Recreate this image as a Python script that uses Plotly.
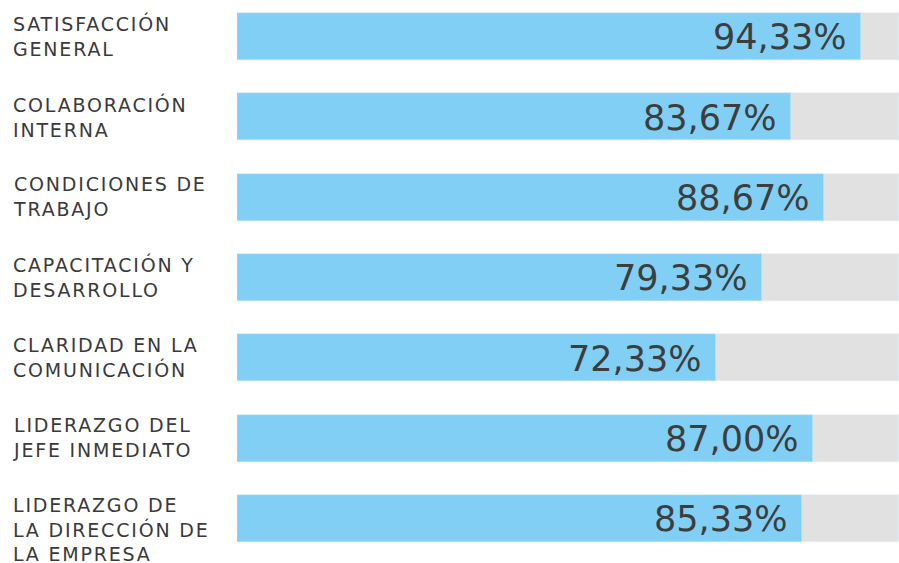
import plotly.graph_objects as go

categories = [
    "SATISFACCIÓN<br>GENERAL",
    "COLABORACIÓN<br>INTERNA",
    "CONDICIONES DE<br>TRABAJO",
    "CAPACITACIÓN Y<br>DESARROLLO",
    "CLARIDAD EN LA<br>COMUNICACIÓN",
    "LIDERAZGO DEL<br>JEFE INMEDIATO",
    "LIDERAZGO DE<br>LA DIRECCIÓN DE<br>LA EMPRESA",
]
values = [94.33, 83.67, 88.67, 79.33, 72.33, 87.00, 85.33]
max_values = [100, 100, 100, 100, 100, 100, 100]
value_labels = ["94,33%", "83,67%", "88,67%", "79,33%", "72,33%", "87,00%", "85,33%"]

idx = list(range(len(categories)))
FONT = "DejaVu Sans"

fig = go.Figure()
fig.add_trace(go.Bar(x=max_values, y=idx, orientation="h", marker_color="#E1E1E1",
                     width=0.585, hoverinfo="skip", showlegend=False))
fig.add_trace(go.Bar(x=values, y=idx, orientation="h", marker_color="#81CFF4",
                     width=0.585, showlegend=False))

for i, (v, t) in enumerate(zip(values, value_labels)):
    fig.add_annotation(x=v, y=i, xref="x", yref="y", text=t, showarrow=False,
                       xanchor="right", yanchor="middle", xshift=-13, yshift=-1,
                       font=dict(family=FONT, size=35, color="#3d3d3d"))

for i, c in enumerate(categories):
    fig.add_annotation(x=-0.341, y=i, xref="paper", yref="y", text=c, showarrow=False,
                       xanchor="left", yanchor="top", align="left",
                       yshift=26,
                       font=dict(family=FONT, size=19, color="#3a3a3a"))

fig.update_layout(
    width=899, height=563,
    margin=dict(l=237, r=0, t=0, b=0),
    plot_bgcolor="white", paper_bgcolor="white",
    barmode="overlay", bargap=0,
    xaxis=dict(range=[0, 100], visible=False, fixedrange=True),
    yaxis=dict(range=[6.554, -0.454], visible=False, fixedrange=True),
)

post = """
document.body.style.margin='0';
document.body.style.overflow='hidden';
document.querySelectorAll('text.annotation-text').forEach(function(el){
  if (el.style.fontSize === '19px') { el.style.letterSpacing = '1.8px'; }
});
"""
fig.write_html("out.html", post_script=post, config={"displayModeBar": False})
